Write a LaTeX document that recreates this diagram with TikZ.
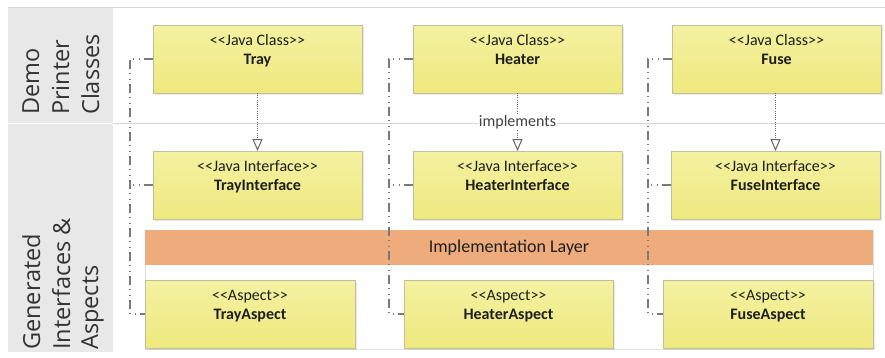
\documentclass[tikz,border=0pt]{standalone}
\usepackage{fontspec}
\setmainfont{Carlito}
\newfontfamily\lanefont{Open Sans}
\usetikzlibrary{arrows.meta,shadows}
\definecolor{boxtop}{HTML}{F4F1A2}
\definecolor{boxbot}{HTML}{EEE97E}
\definecolor{boxline}{HTML}{C2C09A}
\definecolor{orangebar}{HTML}{EEAB7B}
\definecolor{lanegray}{HTML}{E8E8E8}
\definecolor{laneline}{HTML}{D6D6D6}
\definecolor{conncol}{HTML}{7A7A7A}
\definecolor{txtcol}{HTML}{1E1E1E}
\tikzset{
  umlbox/.style={rectangle, draw=boxline, line width=0.8pt, top color=boxtop, bottom color=boxbot,
    minimum height=68pt, inner sep=0pt, outer sep=0pt,
    drop shadow={opacity=0.18, shadow xshift=1.5pt, shadow yshift=-1.5pt}},
  stereo/.style={font=\fontsize{16}{18}\selectfont, text=txtcol, inner sep=0pt},
  title/.style={font=\fontsize{16}{18}\selectfont\bfseries, text=txtcol, inner sep=0pt},
  lanelabel/.style={font=\lanefont\fontsize{23.5}{28}\selectfont, text=black!80, rotate=90, anchor=base west, inner sep=0pt},
  conn/.style={draw=conncol, line width=1.2pt, dash pattern=on 9pt off 4pt on 1pt off 5pt on 1pt off 4pt},
  realize/.style={draw=black!60, line width=1pt, dash pattern=on 1pt off 1.2pt,
    -{Triangle[open, length=12pt, width=10pt, line width=1pt, fill=white]}},
}
\newcommand\umlnode[6]{%
  \node[umlbox, minimum width=#4] (#1) at (#2,#3) {};
  \node[stereo, anchor=base] (#1s) at (#2,#3-14) {#5};
  \node[title, anchor=base] (#1t) at (#2,#3+5) {#6};
}
\begin{document}
\begin{tikzpicture}[x=1pt,y=-1pt]
\useasboundingbox (0,0) rectangle (885,357);
\fill[white] (0,0) rectangle (885,357);
% lane header column
\fill[lanegray] (8,7) rectangle (113,352);
\draw[laneline, line width=0.8pt] (8,7) -- (885,7);
\draw[laneline, line width=0.8pt] (113,123) -- (885,123);
\draw[white, line width=1pt] (8,123) -- (113,123);
% lane labels
\node[lanelabel] (la1) at (39,115) {Demo};
\node[lanelabel] (la2) at (69,115) {Printer};
\node[lanelabel] (la3) at (99,115) {Classes};
\node[lanelabel] (lb1) at (40,350) {Generated};
\node[lanelabel] (lb2) at (70,350) {Interfaces \&};
\node[lanelabel] (lb3) at (98,350) {Aspects};
% implementation layer container
\draw[black!12, line width=0.6pt] (145,230) rectangle (873,349);
\node[rectangle, fill=orangebar, minimum width=728pt, minimum height=35pt, inner sep=0pt,
  font=\fontsize{18}{20}\selectfont, text=txtcol] (impl) at (509,247.5) {Implementation Layer};
% boxes
\umlnode{tray}{257.5}{59}{209pt}{<{}<Java Class>{}>}{Tray}
\umlnode{heater}{517.5}{59}{209pt}{<{}<Java Class>{}>}{Heater}
\umlnode{fuse}{776.5}{59}{209pt}{<{}<Java Class>{}>}{Fuse}
\umlnode{trayI}{257.5}{185}{209pt}{<{}<Java Interface>{}>}{TrayInterface}
\umlnode{heaterI}{517.5}{185}{209pt}{<{}<Java Interface>{}>}{HeaterInterface}
\umlnode{fuseI}{775.5}{185}{209pt}{<{}<Java Interface>{}>}{FuseInterface}
\umlnode{trayA}{250}{314}{210pt}{<{}<Aspect>{}>}{TrayAspect}
\umlnode{heaterA}{508.5}{314}{209pt}{<{}<Aspect>{}>}{HeaterAspect}
\umlnode{fuseA}{768}{314}{210pt}{<{}<Aspect>{}>}{FuseAspect}
% implements arrows
\draw[realize] (tray.south) -- (trayI.north);
\draw[realize] (heater.south) -- node[fill=white, inner sep=1pt, text=black!75,
  font=\fontsize{16}{18}\selectfont] (implabel) {implements} (heaterI.north);
\draw[realize] (fuse.south -| fuseI.north) -- (fuseI.north);
% dash-dot connectors
\draw[conn] (tray.west) -- ++(-23,0) |- (trayA.west);
\draw[conn] (trayI.west) -- ++(-23,0);
\draw[conn] (heater.west) -- ++(-24,0) |- (heaterA.west);
\draw[conn] (heaterI.west) -- ++(-24,0);
\draw[conn] (fuse.west) -- ++(-24,0) |- (fuseA.west);
\draw[conn] (fuseI.west) -- ++(-24,0);
\end{tikzpicture}
\end{document}
